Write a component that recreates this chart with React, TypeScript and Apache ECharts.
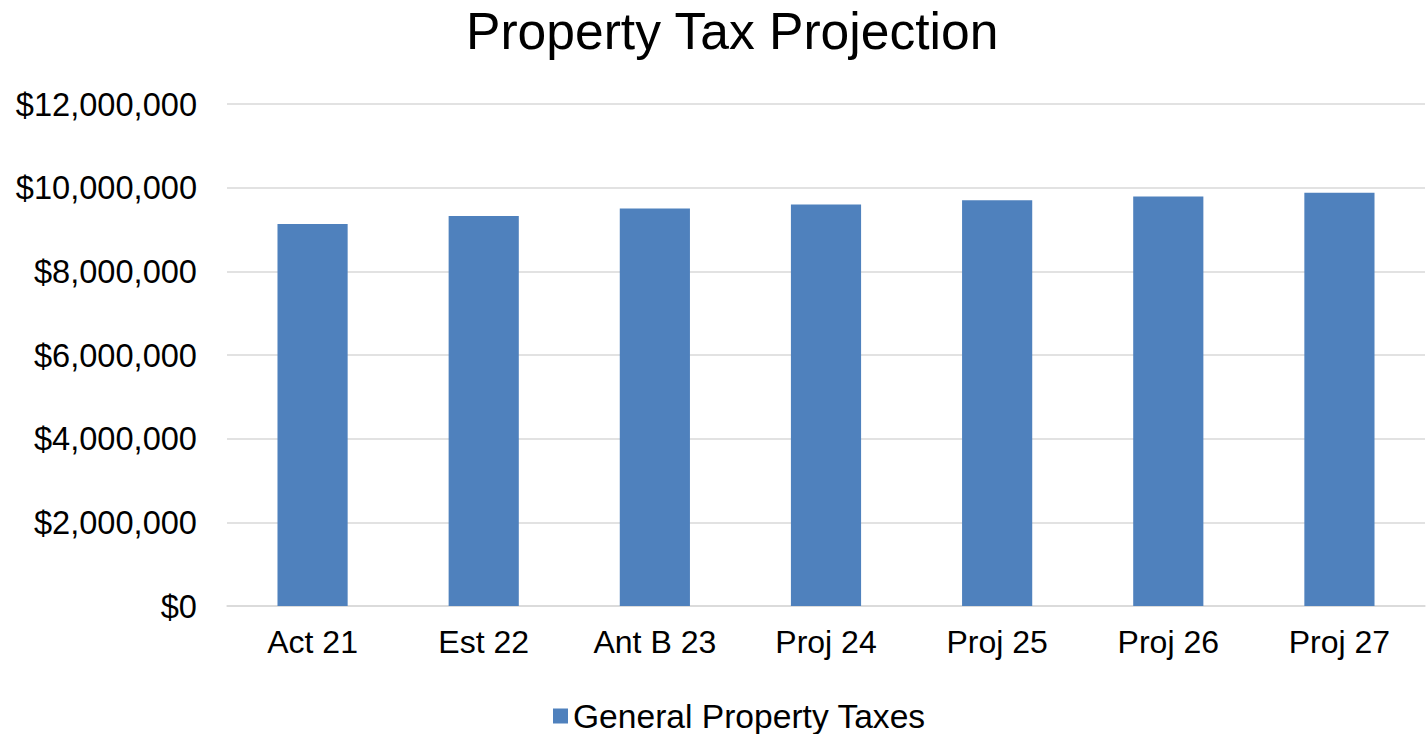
import React, { useEffect, useRef } from "react";
import * as echarts from "echarts";

const categories = ["Act 21", "Est 22", "Ant B 23", "Proj 24", "Proj 25", "Proj 26", "Proj 27"];
const propertyTaxes = [9130000, 9320000, 9500000, 9600000, 9700000, 9790000, 9880000];
const seriesName = "General Property Taxes";
const titleText = "Property Tax Projection";

const fmt = (v: number) => "$" + v.toLocaleString("en-US");
const FONT = "Liberation Sans, Arial, sans-serif";

export default function App() {
  const ref = useRef<HTMLDivElement>(null);
  useEffect(() => {
    if (!ref.current) return;
    const chart = echarts.init(ref.current, undefined, { renderer: "svg" });
    chart.setOption({
      animation: false,
      backgroundColor: "#ffffff",
      textStyle: { fontFamily: FONT },
      title: {
        text: titleText,
        left: 461,
        top: 0,
        textStyle: { fontSize: 51.6, fontWeight: "normal", color: "#000000", fontFamily: FONT },
      },
      legend: {
        data: [seriesName],
        left: 553,
        top: 699,
        padding: 0,
        itemWidth: 15,
        itemHeight: 15,
        itemGap: 9,
        icon: "rect",
        textStyle: { fontSize: 33.6, lineHeight: 33, color: "#000000", fontFamily: FONT },
      },
      grid: { left: 227, right: 2, top: 104, bottom: 128, containLabel: false },
      xAxis: {
        type: "category",
        data: categories,
        axisLine: { lineStyle: { color: "#d9d9d9", width: 1.5 } },
        axisTick: { show: false },
        axisLabel: { fontSize: 32, color: "#000000", margin: 20, fontFamily: FONT },
      },
      yAxis: {
        type: "value",
        min: 0,
        max: 12000000,
        interval: 2000000,
        axisLine: { show: false },
        axisTick: { show: false },
        splitLine: { lineStyle: { color: "#d9d9d9", width: 1.5 } },
        axisLabel: { fontSize: 32.6, color: "#000000", margin: 30, formatter: fmt, fontFamily: FONT },
      },
      series: [
        {
          name: seriesName,
          type: "bar",
          data: propertyTaxes,
          barWidth: "41%",
          itemStyle: { color: "#4f81bd" },
        },
      ],
    });
    return () => chart.dispose();
  }, []);
  return <div ref={ref} style={{ width: 1427, height: 734, position: "absolute", left: 0, top: 0 }} />;
}
